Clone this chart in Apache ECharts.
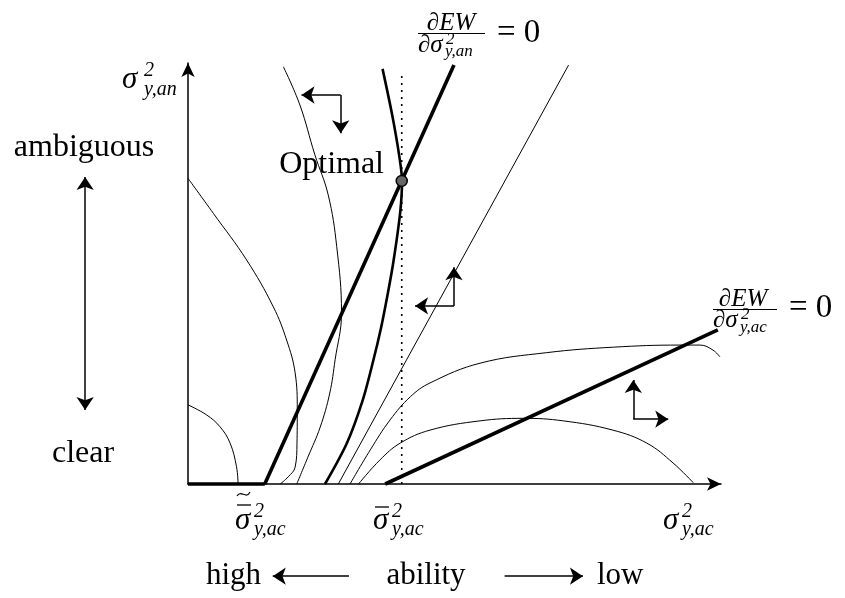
<!DOCTYPE html>
<html>
<head>
<meta charset="utf-8">
<script src="https://cdn.jsdelivr.net/npm/echarts@6/dist/echarts.min.js"></script>
<style>
  html, body { margin: 0; padding: 0; background: #fff; }
  #chart { width: 845px; height: 598px; }
</style>
</head>
<body>
<div id="chart"></div>
<script>
// x = sigma^2_{y,ac}, y = sigma^2_{y,an}, both on a 0..100 scale
const cornerSegment = [[0, 0], [14.4, 0]];
const focAnLine = [[14.4, 0], [49.9, 99.5]];
const focAcLine = [[37.0, 0], [99.4, 36.6]];
const rayLine = [[28.2, 0], [71.4, 99.5]];
const ambiguityLine = [[40.1, 0], [40.1, 97.6]];
const optimalPoint = [[40.1, 72.0]];

const thickCurve = [
  [36.5, 98.6], [38.3, 87.7], [39.6, 78.2], [40.15, 72.0], [39.8, 64.4], [38.5, 52.5],
  [37.3, 44.0], [36.2, 37.0], [34.8, 29.5], [32.8, 20.0], [29.8, 9.7], [25.7, 0]
];
const contourSmall = [
  [0, 18.8], [3.5, 16.4], [6.0, 13.6], [7.9, 9.7], [9.1, 4.1], [9.4, 0]
];
const contourLeft = [
  [0, 72.6], [4.75, 64.3], [11.0, 53.2], [16.0, 42.1], [18.5, 34.2], [20.1, 26.4],
  [20.5, 17.6], [20.45, 9.7], [20.1, 4.0], [18.8, 1.7], [17.3, 0]
];
const contourTop = [
  [17.9, 99.1], [21.0, 90.0], [23.8, 78.2], [26.3, 68.7], [27.9, 56.4], [28.8, 40.6],
  [27.6, 29.5], [26.6, 21.6], [24.8, 13.5], [22.5, 6.4], [20.4, 0]
];
const contourHigh = [
  [30.4, 0], [34.2, 8.1], [37.9, 15.2], [41.7, 20.7], [45.4, 24.0], [54.8, 28.7],
  [67.3, 31.2], [79.8, 32.5], [92.3, 33.0], [96.1, 33.0], [98.5, 31.8], [99.8, 30.2]
];
const contourHump = [
  [32.0, 0], [36.0, 5.7], [39.8, 9.7], [45.4, 12.8], [54.8, 15.0], [62.9, 15.6],
  [70.4, 15.0], [79.7, 12.8], [86.1, 9.7], [91.0, 5.0], [94.8, 0.3]
];

// direction arrows: [from, to]
const shiftArrows = [
  [[28.65, 92.4], [21.3, 92.4]], [[28.65, 92.4], [28.65, 83.3]],
  [[49.9, 42.3], [42.6, 42.3]], [[49.9, 42.3], [49.9, 51.5]],
  [[83.55, 15.4], [83.55, 24.7]], [[83.55, 15.4], [90.1, 15.4]]
];
const abilityArrows = [
  [[30.2, -21.9], [15.9, -21.9]], [[59.4, -21.9], [74.1, -21.9]]
];
const ambiguityArrow = [[-19.3, 72.9], [-19.3, 17.6]];

const sideWords = ['ambiguous', 'clear'];
const abilityWords = ['high', 'ability', 'low'];

const chart = echarts.init(document.getElementById('chart'));

const FONT = 'Liberation Serif';
function thin(data, w, smooth) {
  return {
    type: 'line', data: data, smooth: smooth, showSymbol: false, clip: false,
    lineStyle: { color: '#000', width: w }, silent: true, z: 3
  };
}
function arrowSet(list, both) {
  return {
    type: 'lines', coordinateSystem: 'cartesian2d', clip: false, silent: true,
    symbol: both ? ['arrow', 'arrow'] : ['none', 'arrow'], symbolSize: 13,
    lineStyle: { color: '#000', width: 1.5, opacity: 1 },
    data: list.map(c => ({ coords: c })), z: 4
  };
}
function txt(x, y, s, size, align) {
  return {
    type: 'text', x: x, y: y,
    style: {
      text: s, fontSize: size, fontFamily: FONT, fill: '#000',
      textAlign: align || 'left', textVerticalAlign: 'middle'
    }
  };
}
function it(x, y, s, size, align) {
  const t = txt(x, y, s, size, align);
  t.style.fontStyle = 'italic';
  return t;
}
function hline(x1, x2, y, w) {
  return { type: 'line', shape: { x1: x1, y1: y, x2: x2, y2: y }, style: { stroke: '#000', lineWidth: w || 1 } };
}

const graphics = [
  txt(84, 148, sideWords[0], 32, 'center'),
  txt(83, 454, sideWords[1], 32, 'center'),
  txt(384, 165, 'Optimal', 32, 'right'),
  txt(206, 576, abilityWords[0], 31),
  txt(426, 576, abilityWords[1], 31, 'center'),
  txt(597, 576, abilityWords[2], 31),

  // sigma^2_{y,an} on the vertical axis
  it(122, 80, 'σ', 31), it(144, 71, '2', 20), it(144, 90, 'y,an', 20),

  // tilde-bar sigma
  it(235, 521, 'σ', 31), hline(237, 251, 505, 1.3),
  {
    type: 'bezierCurve',
    shape: { x1: 237, y1: 496, cpx1: 241, cpy1: 489, cpx2: 246, cpy2: 500, x2: 250, y2: 492 },
    style: { stroke: '#000', lineWidth: 1.2, fill: null }
  },
  it(254, 512, '2', 20), it(254, 530, 'y,ac', 20),
  // bar sigma
  it(373, 521, 'σ', 31), hline(375, 389, 507, 1.3),
  it(392, 512, '2', 20), it(392, 530, 'y,ac', 20),
  // sigma^2_{y,ac}
  it(663, 521, 'σ', 31), it(682, 512, '2', 20), it(682, 530, 'y,ac', 20),

  // d EW / d sigma^2_{y,an} = 0
  it(451, 23, '∂EW', 25, 'center'), hline(418, 485, 33.5, 1),
  it(418, 45, '∂σ', 25), it(446, 40, '2', 17), it(445, 52, 'y,an', 17),
  txt(497, 33, '= 0', 33),

  // d EW / d sigma^2_{y,ac} = 0
  it(743, 299, '∂EW', 25, 'center'), hline(713, 777, 309.5, 1),
  it(713, 320, '∂σ', 25), it(741, 315, '2', 17), it(740, 328, 'y,ac', 17),
  txt(789, 308, '= 0', 33)
];

const option = {
  animation: false,
  backgroundColor: '#fff',
  grid: { left: 188, bottom: 114, width: 533, height: 421 },
  xAxis: {
    type: 'value', min: 0, max: 100,
    axisLine: { show: true, symbol: ['none', 'arrow'], symbolSize: [10, 14], lineStyle: { color: '#000', width: 1.5 } },
    axisTick: { show: false }, axisLabel: { show: false }, splitLine: { show: false }
  },
  yAxis: {
    type: 'value', min: 0, max: 100,
    axisLine: { show: true, symbol: ['none', 'arrow'], symbolSize: [10, 14], lineStyle: { color: '#000', width: 1.5 } },
    axisTick: { show: false }, axisLabel: { show: false }, splitLine: { show: false }
  },
  series: [
    thin(contourSmall, 1, 0.4),
    thin(contourLeft, 1, 0.4),
    thin(contourTop, 1, 0.4),
    thin(contourHigh, 1, 0.4),
    thin(contourHump, 1, 0.4),
    thin(rayLine, 1, false),
    thin(thickCurve, 2.6, 0.3),
    thin(focAnLine, 3.6, false),
    thin(focAcLine, 3.6, false),
    thin(cornerSegment, 3.6, false),
    {
      type: 'line', data: ambiguityLine, showSymbol: false, silent: true,
      lineStyle: { color: '#000', width: 1.6, type: [2, 5] }, z: 2
    },
    arrowSet(shiftArrows, false),
    arrowSet(abilityArrows, false),
    arrowSet([ambiguityArrow], true),
    {
      type: 'scatter', data: optimalPoint, symbolSize: 11, silent: true, z: 6,
      itemStyle: { color: '#666', borderColor: '#000', borderWidth: 1.5, opacity: 1 }
    }
  ],
  graphic: graphics
};
chart.setOption(option);
</script>
</body>
</html>
